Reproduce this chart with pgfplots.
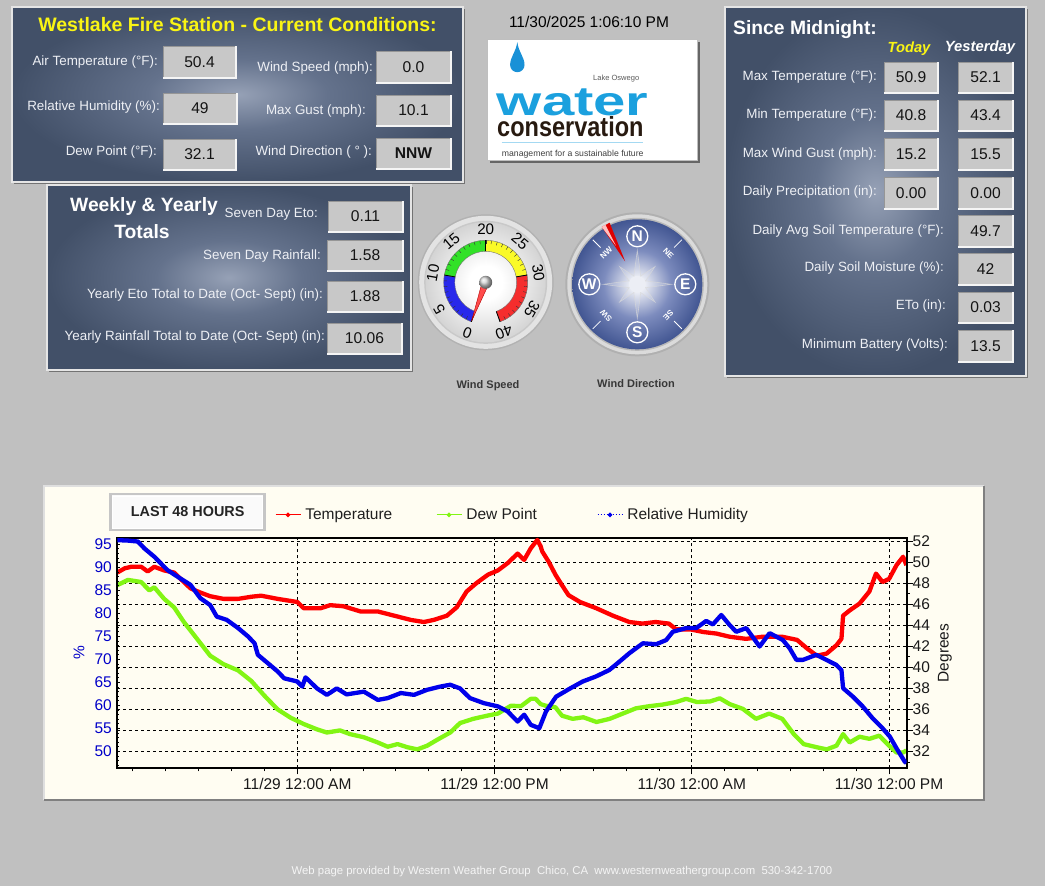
\documentclass[border=0pt]{standalone}
\usepackage{graphicx}
\usepackage{pgfplots}
\pgfplotsset{compat=1.18}
\usepackage{fontspec}
\setmainfont{Liberation Sans}
\newcommand\fs[1]{\fontsize{#1}{#1}\selectfont}
\definecolor{pagebg}{RGB}{192,192,192}
\definecolor{panelin}{RGB}{150,161,182}
\definecolor{panelmid}{RGB}{100,114,140}
\definecolor{panelout}{RGB}{66,80,104}
\definecolor{boxfill}{RGB}{200,200,200}
\definecolor{boxdark}{RGB}{150,150,150}
\definecolor{valtext}{RGB}{20,20,20}
\definecolor{labtext}{RGB}{238,240,245}
\definecolor{ttl}{RGB}{250,245,20}
\definecolor{cream}{RGB}{255,253,242}
\definecolor{tempred}{RGB}{255,0,0}
\definecolor{dewgreen}{RGB}{130,245,20}
\definecolor{rhblue}{RGB}{0,0,235}
\definecolor{labblue}{RGB}{0,0,200}
\definecolor{compc}{RGB}{236,238,245}
\definecolor{compm}{RGB}{125,140,190}
\definecolor{compo}{RGB}{66,86,146}
\definecolor{facec}{RGB}{255,255,255}
\definecolor{faceo}{RGB}{212,212,212}
\definecolor{dropblue}{RGB}{25,145,215}
\definecolor{logoblue}{RGB}{27,160,222}
\definecolor{logobrown}{RGB}{40,26,16}
\definecolor{gblue}{RGB}{40,40,235}
\definecolor{ggreen}{RGB}{50,225,40}
\definecolor{gyellow}{RGB}{250,250,40}
\definecolor{gred}{RGB}{245,45,45}
\pgfdeclareradialshading{panelshade}{\pgfpoint{0bp}{0bp}}{color(0bp)=(panelin); color(10bp)=(panelmid); color(25bp)=(panelout); color(50bp)=(panelout)}
\pgfdeclareradialshading{compshade}{\pgfpoint{0bp}{0bp}}{color(0bp)=(compc); color(2.5bp)=(compc); color(13bp)=(compm); color(25bp)=(compo); color(50bp)=(compo)}
\pgfdeclareradialshading{faceshade}{\pgfpoint{0bp}{0bp}}{color(0bp)=(facec); color(7bp)=(facec); color(25bp)=(faceo); color(50bp)=(faceo)}
\newcommand\panel[4]{%
  \fill[black!55] (#1+2,#2+2) rectangle (#3+2,#4+2);
  \shade[shading=panelshade] (#1,#2) rectangle (#3,#4);
  \draw[white!80!gray, line width=2] (#1,#2) rectangle (#3,#4);}
\newcommand\valbox[6][]{%
  \fill[boxfill] (#2,#3) rectangle (#4,#5);
  \draw[boxdark, line width=1] (#2,#5) -- (#2,#3) -- (#4,#3);
  \draw[white!92!gray, line width=1.5] (#2,#5) -- (#4,#5) -- (#4,#3);
  \node[font=\fs{15.6}#1, text=valtext] at ({(#2+#4)/2},{(#3+#5)/2}) {#6};}
\newcommand\lab[3]{\node[anchor=east, text=labtext, font=\fs{13.4}, inner sep=0pt] at (#1,#2) {#3};}
\newcommand\band[3]{\fill[#1, draw=black!55, line width=0.4] (#2:42) arc[start angle=#2, end angle=#3, radius=42] -- (#3:31) arc[start angle=#3, end angle=#2, radius=31] -- cycle;}
\begin{document}
\begin{tikzpicture}
\begin{scope}[x=1pt,y=-1pt]
\useasboundingbox (0,0) rectangle (1045,886);
\fill[pagebg] (0,0) rectangle (1045,886);
% ---------- panel 1
\panel{12}{7}{463}{182}
\node[font=\fs{19.5}\bfseries, text=ttl] at (237.5,25) {Westlake Fire Station - Current Conditions:};
\lab{158}{62}{Air Temperature (°F):}
\valbox{163}{46}{236}{78}{50.4}
\lab{160}{107}{Relative Humidity (\%):}
\valbox{163}{93}{237}{124}{49}
\lab{157}{152}{Dew Point (°F):}
\valbox{163}{139}{236}{170}{32.1}
\lab{373}{68}{Wind Speed (mph):}
\valbox{376}{51}{451}{83}{0.0}
\lab{366}{111}{Max Gust (mph):}
\valbox{376}{95}{451}{126}{10.1}
\lab{372}{152}{Wind Direction ( ° ):}
\valbox[\bfseries]{376}{138}{451}{169}{NNW}
% ---------- panel 2
\panel{47}{185}{411}{370}
\node[font=\fs{19.3}\bfseries, text=white] at (144,207) {Weekly \& Yearly};
\node[font=\fs{19.3}\bfseries, text=white] at (142,232) {Totals};
\lab{318}{214}{Seven Day Eto:}
\valbox{328}{201}{403}{232}{0.11}
\lab{321}{256}{Seven Day Rainfall:}
\valbox{327}{240}{403}{271}{1.58}
\lab{323}{295}{Yearly Eto Total to Date (Oct- Sept) (in):}
\valbox{327}{281}{403}{312}{1.88}
\lab{325}{337}{Yearly Rainfall Total to Date (Oct- Sept) (in):}
\valbox{327}{323}{402}{354}{10.06}
% ---------- panel 3
\panel{725}{7}{1026}{376}
\node[anchor=west, font=\fs{19.3}\bfseries, text=white, inner sep=0pt] at (733,30) {Since Midnight:};
\node[font=\fs{14.7}\bfseries\itshape, text=ttl] at (909,49) {Today};
\node[font=\fs{14.8}\bfseries\itshape, text=white] at (980,48) {Yesterday};
\lab{877}{77}{Max Temperature (°F):}
\valbox{884}{62}{938}{93}{50.9}\valbox{958}{62}{1013}{93}{52.1}
\lab{877}{115}{Min Temperature (°F):}
\valbox{884}{100}{938}{131}{40.8}\valbox{958}{100}{1013}{131}{43.4}
\lab{877}{154}{Max Wind Gust (mph):}
\valbox{884}{138}{938}{170}{15.2}\valbox{958}{138}{1013}{170}{15.5}
\lab{877}{192}{Daily Precipitation (in):}
\valbox{884}{177}{938}{209}{0.00}\valbox{958}{177}{1013}{209}{0.00}
\lab{944}{231}{Daily Avg Soil Temperature (°F):}
\valbox{958}{215}{1013}{247}{49.7}
\lab{944}{268}{Daily Soil Moisture (\%):}
\valbox{958}{253}{1013}{285}{42}
\lab{946}{306}{ETo (in):}
\valbox{958}{292}{1013}{323}{0.03}
\lab{948}{345}{Minimum Battery (Volts):}
\valbox{958}{330}{1013}{362}{13.5}
% ---------- date and logo
\node[font=\fs{15.5}, text=black] at (589,22) {11/30/2025 1:06:10 PM};
\fill[black!60] (490,42) rectangle (700,163);
\fill[white] (487,39) rectangle (697,160);
\draw[gray!50, line width=1] (487,39) rectangle (697,160);
\fill[dropblue] (517.3,42) .. controls (518.5,52) and (524.5,57) .. (524.5,65) arc[start angle=0,end angle=180,radius=7.2] .. controls (510.1,57) and (516,52) .. (517.3,42) -- cycle;
\node[anchor=base west, inner sep=0pt, text=black!65] at (593,81) {\resizebox{46pt}{!}{\fs{8}Lake Oswego}};
\node[anchor=base west, inner sep=0pt, text=logoblue] at (496.7,115) {\resizebox{151.6pt}{26.7pt}{\bfseries water}};
\node[anchor=base west, inner sep=0pt, text=logobrown] at (497,136) {\resizebox{146.3pt}{20pt}{\bfseries conservation}};
\draw[logoblue!40, line width=1] (501.7,142.7) -- (643.3,142.7);
\node[anchor=base west, inner sep=0pt, text=black!75] at (501.7,156) {\resizebox{141.6pt}{!}{\fs{9}management for a sustainable future}};
% ---------- wind speed gauge
\begin{scope}[shift={(485.7,282.3)}, yscale=-1]
\fill[gray!60] (0,0) circle (68);
\fill[gray!22] (0,0) circle (66.5);
\fill[gray!42] (0,0) circle (61.5);
\shade[shading=faceshade] (0,0) circle (60);
\band{gblue}{250}{170}
\band{ggreen}{170}{90}
\band{gyellow}{90}{10}
\band{gred}{10}{-70}
\foreach \v in {0,...,40} {\draw[black!80, line width=0.4] ({250-8*\v}:38.5) -- ({250-8*\v}:42);}
\foreach \v in {0,10,20,30,40} {\draw[black, line width=0.8] ({250-8*\v}:31) -- ({250-8*\v}:42);}
\foreach \v in {0,5,...,40} {\pgfmathsetmacro\ang{250-8*\v}\pgfmathsetmacro\rot{160-8*\v}
  \node[rotate=\rot, font=\fs{15.2}, inner sep=0pt] at (\ang:53.5) {\v};}
\fill[red!70!white, draw=red!70!black, line width=0.4] (250:41) -- (160:3.5) -- (340:3.5) -- cycle;
\shade[ball color=gray!35] (0,0) circle (6.5);
\end{scope}
\node[font=\fs{11}\bfseries, text=black!78] at (488,386) {Wind Speed};
% ---------- wind direction compass
\begin{scope}[shift={(637.3,284.3)}, yscale=-1]
\fill[gray!62] (0,0) circle (72);
\fill[gray!28] (0,0) circle (70);
\fill[gray!55] (0,0) circle (66.5);
\shade[shading=compshade] (0,0) circle (65);
\foreach \a in {0,90,180,270} {
  \fill[white, opacity=0.15, draw=gray!30, draw opacity=0.7, line width=0.6] (0,0) -- (\a+22.5:9) -- (\a:34) -- (\a-22.5:9) -- cycle;}
\foreach \a in {45,135,225,315} {
  \fill[white, opacity=0.15, draw=gray!30, draw opacity=0.7, line width=0.6] (0,0) -- (\a+22.5:9) -- (\a:25) -- (\a-22.5:9) -- cycle;}
\fill[compc] (0,0) circle (8.5);
\foreach \a/\t in {90/N,0/E,270/S,180/W} {
  \draw[white, line width=1.3] (\a:48) circle (10.5);
  \node[text=white, font=\fs{15.5}\bfseries, inner sep=0pt] at (\a:48) {\t};}
\foreach \a/\t in {45/NE,135/NW,225/SW,315/SE} {
  \draw[white, line width=0.8] (\a:52) -- (\a:63);
  \pgfmathsetmacro\rot{\a-90}
  \node[text=white, font=\fs{8}\bfseries, inner sep=0pt, rotate=\rot] at (\a:44) {\t};}
\fill[red!88!black] (118:26) -- (114.2:67.5) -- (121.8:67.5) -- cycle;
\fill[red!25!white] (119:44) -- (118.2:67.5) -- (121.8:67.5) -- cycle;
\end{scope}
\node[font=\fs{11}\bfseries, text=black!78] at (636,384) {Wind Direction};
% ---------- chart frame
\fill[cream] (44,486) rectangle (984,800);
\draw[white!75!gray, line width=1.5] (44,800) -- (44,486) -- (984,486);
\draw[black!50, line width=2] (44,800) -- (984,800) -- (984,486);
\fill[white!96!gray] (110.7,494) rectangle (264.7,530);
\draw[gray!45, line width=2.5] (110.7,494) rectangle (264.7,530);
\draw[white, line width=1] (112.7,496) rectangle (262.7,528);
\node[font=\fs{14.4}\bfseries, text=black!86] at (187.7,511.5) {LAST 48 HOURS};
\node[rotate=90, font=\fs{15.5}, text=labblue] at (79,653) {\%};
\node[rotate=90, font=\fs{15.5}, text=black!90] at (945,653) {Degrees};
\node[font=\fs{11.35}, text=white!92!gray] at (562,872) {Web page provided by Western Weather Group\ \ Chico, CA\ \ www.westernweathergroup.com\ \ 530-342-1700};
\coordinate (axSW) at (117.3,768.3);
\end{scope}
% ---------- chart axes
\begin{axis}[
  at={(axSW)}, anchor=south west,
  width=789.4pt, height=230.6pt, scale only axis,
  xmin=-10.95, xmax=37.07, ymin=30.40, ymax=52.31,
  xtick pos=left, ytick pos=right, yticklabel pos=right,
  xtick={0,12,24,36},
  xticklabels={11/29 12:00 AM,11/29 12:00 PM,11/30 12:00 AM,11/30 12:00 PM},
  minor xtick={-10,-8,...,36},
  ytick={32,34,...,52},
  minor ytick={31,33,...,51},
  tick align=outside,
  major tick length=6pt, minor tick length=3pt,
  xmajorgrids, ymajorgrids,
  major grid style={black, line width=0.9pt, dash pattern=on 3pt off 3pt},
  axis line style={black, line width=2pt},
  every tick/.style={black, line width=0.9pt},
  tick label style={font=\fs{15.5}, text=black!90},
  yticklabel style={xshift=-3.5pt},
  /pgf/number format/assume math mode=true,
  legend style={at={(axis description cs:0.1998,1.099)}, anchor=west,
    draw=none, fill=none, inner sep=0pt, outer sep=0pt,
    font=\fs{15.5}, text=black!88, nodes={inner sep=0pt},
    /tikz/every odd column/.append style={column sep=4.3pt}},
  legend columns=3, legend cell align=left,
  legend image code/.code={\draw[#1] (0pt,0pt) -- (25pt,0pt); \fill[#1,solid] (12.5pt,0pt) circle (1.7pt);},
]
\addlegendimage{tempred, line width=1pt}
\addlegendentry{\makebox[130.7pt][l]{Temperature}}
\addlegendimage{dewgreen, line width=1pt}
\addlegendentry{\makebox[130.7pt][l]{Dew Point}}
\addlegendimage{rhblue, line width=1pt, dotted}
\addlegendentry{Relative Humidity}
\addplot[forget plot, tempred, line width=4.3pt, line join=round] coordinates {
(-10.95,49.0)(-10.5,49.4)(-10.1,49.55)(-9.5,49.55)(-9.1,49.1)(-8.7,49.55)(-8.1,49.2)(-7.5,49.0)(-6.9,48.1)(-6.5,47.5)(-5.9,47.1)(-5.3,46.75)(-4.5,46.5)(-3.6,46.5)(-2.8,46.7)(-2.2,46.8)(-1.2,46.5)(0,46.2)(0.4,45.6)(1.4,45.6)(2.0,45.9)(2.8,45.8)(3.85,45.3)(4.9,45.3)(5.9,44.9)(6.9,44.5)(7.7,44.3)(8.3,44.5)(9.1,44.9)(9.7,45.7)(10.3,47.2)(10.9,48.0)(11.6,48.8)(12.2,49.2)(12.8,49.9)(13.4,50.8)(13.8,50.2)(14.2,51.3)(14.6,52.1)(14.8,51.5)(14.9,51.0)(15.3,50.0)(15.7,48.8)(16.1,47.8)(16.5,46.85)(17.2,46.2)(18.2,45.6)(19.2,44.9)(20.2,44.3)(21.0,44.15)(21.8,44.3)(22.6,44.15)(23.05,43.6)(23.9,43.6)(24.7,43.35)(25.5,43.2)(26.3,42.9)(27.3,42.7)(28.3,42.9)(29.5,42.9)(30.4,42.6)(31.0,41.8)(31.6,41.1)(32.2,41.3)(32.8,42.1)(33.1,42.7)(33.2,44.9)(33.6,45.4)(34.2,46.05)(34.8,47.2)(35.2,48.9)(35.6,48.1)(36.0,48.4)(36.45,49.7)(36.85,50.5)(37.05,49.7)
};
\addplot[forget plot, dewgreen, line width=4.3pt, line join=round] coordinates {
(-10.95,47.8)(-10.3,48.3)(-9.5,48.1)(-9.0,47.3)(-8.7,47.6)(-8.1,46.5)(-7.5,45.7)(-6.9,44.3)(-6.1,42.7)(-5.3,41.1)(-4.5,40.3)(-3.6,39.7)(-2.8,38.7)(-2.0,37.3)(-1.2,36.0)(-0.4,35.2)(0.4,34.6)(1.2,34.1)(1.8,33.8)(2.6,34.0)(3.2,33.65)(4.05,33.35)(4.9,32.85)(5.5,32.45)(6.1,32.7)(6.7,32.4)(7.3,32.2)(7.9,32.55)(8.5,33.1)(9.3,33.8)(9.9,34.7)(10.7,35.1)(11.55,35.4)(12.2,35.6)(13.0,36.35)(13.6,36.3)(14.2,37.0)(14.5,37.0)(14.8,36.5)(15.1,36.35)(15.7,36.2)(16.1,35.4)(16.75,35.1)(17.4,35.25)(18.2,34.8)(19.0,35.1)(19.8,35.6)(20.6,36.1)(21.4,36.3)(22.2,36.45)(23.05,36.7)(23.65,37.0)(24.3,36.7)(25.1,36.75)(25.7,37.05)(26.3,36.5)(27.1,36.05)(27.9,35.1)(28.7,35.6)(29.5,35.1)(30.2,33.65)(30.8,32.7)(31.6,32.4)(32.2,32.2)(32.8,32.55)(33.2,33.65)(33.6,32.85)(34.2,33.4)(34.8,33.2)(35.4,33.5)(36.0,32.55)(36.45,31.9)(36.85,31.9)(37.05,32.1)
};
\end{axis}
\begin{axis}[
  at={(axSW)}, anchor=south west,
  width=789.4pt, height=230.6pt, scale only axis,
  xmin=-10.95, xmax=37.07, ymin=46.35, ymax=96.43,
  hide x axis, ytick pos=left,
  ytick={50,55,...,95},
  minor ytick={47,48,...,96},
  tick align=inside,
  major tick length=3pt, minor tick length=1.5pt,
  axis line style={black, line width=2pt},
  every tick/.style={black, line width=0.8pt},
  tick label style={font=\fs{15.5}, text=labblue},
  yticklabel style={xshift=-2pt},
  /pgf/number format/assume math mode=true,
]
\addplot[rhblue, line width=4.3pt, line join=round] coordinates {
(-10.95,95.9)(-10.3,95.8)(-9.7,95.6)(-9.3,94.1)(-8.7,92.3)(-7.9,89.4)(-7.3,88.0)(-6.5,86.2)(-5.9,83.3)(-5.3,81.8)(-4.9,79.3)(-4.3,78.6)(-3.6,76.8)(-3.0,75.0)(-2.6,73.5)(-2.4,71.0)(-1.8,69.2)(-1.2,67.4)(-0.8,65.9)(0,65.2)(0.3,64.1)(0.5,66.1)(1.2,63.7)(1.8,62.3)(2.4,63.7)(3.0,62.4)(4.05,63.0)(4.9,61.2)(5.5,61.6)(6.3,62.7)(7.1,62.3)(7.9,63.4)(8.7,64.1)(9.3,64.5)(9.9,63.7)(10.5,61.6)(11.35,60.5)(12.2,59.8)(12.8,58.7)(13.4,56.5)(13.8,58.0)(14.2,55.8)(14.72,55.05)(15.13,58.7)(15.74,61.9)(16.55,63.6)(17.36,65.2)(18.17,66.3)(18.98,67.7)(19.59,69.5)(20.2,71.35)(21.02,73.5)(21.83,73.3)(22.44,74.2)(22.84,76.0)(23.65,76.8)(24.26,76.8)(24.87,78.35)(25.28,77.6)(25.79,79.65)(26.29,77.5)(26.7,76.0)(27.31,76.8)(28.12,72.8)(28.73,75.7)(29.54,74.2)(29.95,72.4)(30.36,69.9)(30.76,69.9)(31.57,71.0)(32.18,69.9)(32.79,68.8)(33.1,67.7)(33.2,63.75)(33.8,61.9)(34.4,59.75)(35.0,57.2)(35.6,55.05)(36.04,53.25)(36.45,50.7)(36.95,47.8)(37.05,47.5)
};
\end{axis}
\end{tikzpicture}
\end{document}
